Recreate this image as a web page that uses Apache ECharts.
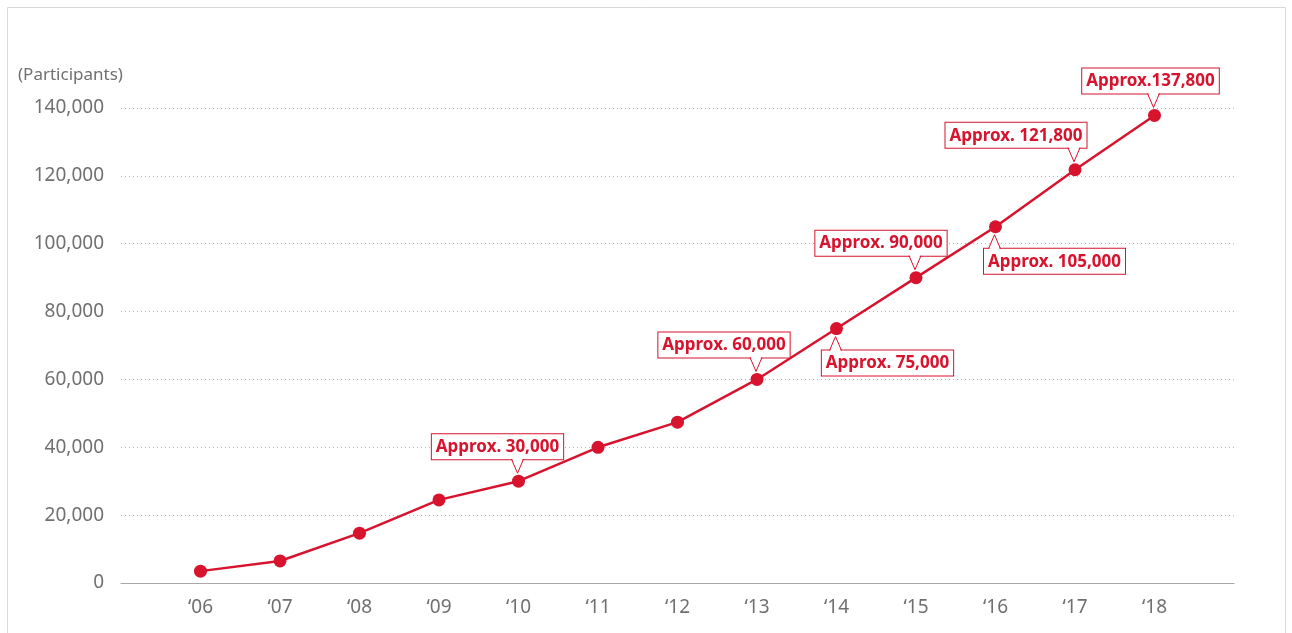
<!DOCTYPE html>
<html>
<head>
<meta charset="utf-8">
<title>Participants</title>
<script src="https://cdn.jsdelivr.net/npm/echarts@6/dist/echarts.min.js"></script>
<style>
  html, body { margin: 0; padding: 0; background: #ffffff; }
  #chart { width: 1292px; height: 633px; }
</style>
</head>
<body>
<div id="chart"></div>
<script>
// Yearly participants
const years = [2006, 2007, 2008, 2009, 2010, 2011, 2012, 2013, 2014, 2015, 2016, 2017, 2018];
const participants = [3500, 6500, 14700, 24500, 30000, 40000, 47400, 60000, 75000, 90000, 105000, 121800, 137800];
const yTicks = [0, 20000, 40000, 60000, 80000, 100000, 120000, 140000];

// Which years carry an "Approx." callout
const calloutYears = [2010, 2013, 2014, 2015, 2016, 2017, 2018];
const calloutPrefix = ['Approx. ', 'Approx. ', 'Approx. ', 'Approx. ', 'Approx. ', 'Approx. ', 'Approx.'];

// Callout placement: side of the point and horizontal shift of the box
const calloutLayout = [
  { side: 'up', dx: -21 },
  { side: 'up', dx: -33 },
  { side: 'down', dx: 51 },
  { side: 'up', dx: -35 },
  { side: 'down', dx: 59 },
  { side: 'up', dx: -59 },
  { side: 'up', dx: -4 }
];

const RED = '#d7132e';
const fmt = v => v.toLocaleString('en-US');

const lineData = years.map((y, i) => [y, participants[i]]);
const calloutData = calloutYears.map((y, k) => [y, participants[years.indexOf(y)], k]);

function renderCallout(params, api) {
  const k = api.value(2);
  const pt = api.coord([api.value(0), api.value(1)]);
  const lay = calloutLayout[k];
  const text = calloutPrefix[k] + fmt(api.value(1));
  const up = lay.side === 'up';
  const gap = 22;
  const base = up ? pt[1] - gap : pt[1] + gap;
  const tip = up ? pt[1] - 8 : pt[1] + 8;
  const tx = pt[0] - 1;
  const hw = 6;
  const cover = up ? base - 1.5 : base + 1.5;
  return {
    type: 'group',
    children: [
      {
        type: 'text',
        z2: 1,
        style: {
          text: text,
          x: pt[0] + lay.dx,
          y: base,
          align: 'center',
          verticalAlign: up ? 'bottom' : 'top',
          font: 'bold 17px "Noto Sans"',
          fill: RED,
          backgroundColor: '#ffffff',
          borderColor: RED,
          borderWidth: 1,
          padding: [3, 4, 2, 4],
          lineHeight: 20
        }
      },
      {
        type: 'polygon',
        z2: 2,
        shape: { points: [[tx - hw + 0.5, cover], [tx, tip], [tx + hw - 0.5, cover]] },
        style: { fill: '#ffffff', stroke: null }
      },
      {
        type: 'polyline',
        z2: 3,
        shape: { points: [[tx - hw, base], [tx, tip], [tx + hw, base]] },
        style: { fill: null, stroke: RED, lineWidth: 1 }
      }
    ]
  };
}

const chart = echarts.init(document.getElementById('chart'), null, { renderer: 'canvas' });

chart.setOption({
  animation: false,
  backgroundColor: '#ffffff',
  grid: { left: 121, right: 58, top: 108, bottom: 50, containLabel: false },
  graphic: [
    {
      type: 'rect',
      silent: true,
      shape: { x: 7.5, y: 7.5, width: 1278, height: 700 },
      style: { fill: null, stroke: '#d9d9d9', lineWidth: 1 }
    },
    {
      type: 'text',
      left: 18,
      top: 67,
      style: { text: '(Participants)', font: '17px "Noto Sans"', fill: '#707070' }
    }
  ],
  xAxis: {
    type: 'value',
    min: 2005,
    max: 2019,
    interval: 1,
    axisLine: { show: true, lineStyle: { color: '#a8a8a8', width: 1 } },
    axisTick: { show: false },
    splitLine: { show: false },
    axisLabel: {
      margin: 15,
      color: '#707070',
      fontFamily: 'Noto Sans',
      fontSize: 19,
      formatter: v => (years.indexOf(v) >= 0 ? '\u2018' + String(v).slice(2) : '')
    }
  },
  yAxis: {
    type: 'value',
    min: yTicks[0],
    max: yTicks[yTicks.length - 1],
    interval: yTicks[1] - yTicks[0],
    axisLine: { show: false },
    axisTick: { show: false },
    splitLine: {
      show: true,
      lineStyle: { color: '#b5b5b5', type: [1, 3], width: 1 }
    },
    axisLabel: {
      margin: 17,
      color: '#707070',
      fontFamily: 'Noto Sans',
      fontSize: 19,
      formatter: v => fmt(v)
    }
  },
  series: [
    {
      type: 'line',
      data: lineData,
      z: 2,
      symbol: 'circle',
      symbolSize: 13,
      showAllSymbol: true,
      lineStyle: { color: RED, width: 2.5 },
      itemStyle: { color: RED },
      emphasis: { disabled: true }
    },
    {
      type: 'custom',
      z: 3,
      data: calloutData,
      renderItem: renderCallout,
      silent: true
    }
  ]
});
</script>
</body>
</html>
